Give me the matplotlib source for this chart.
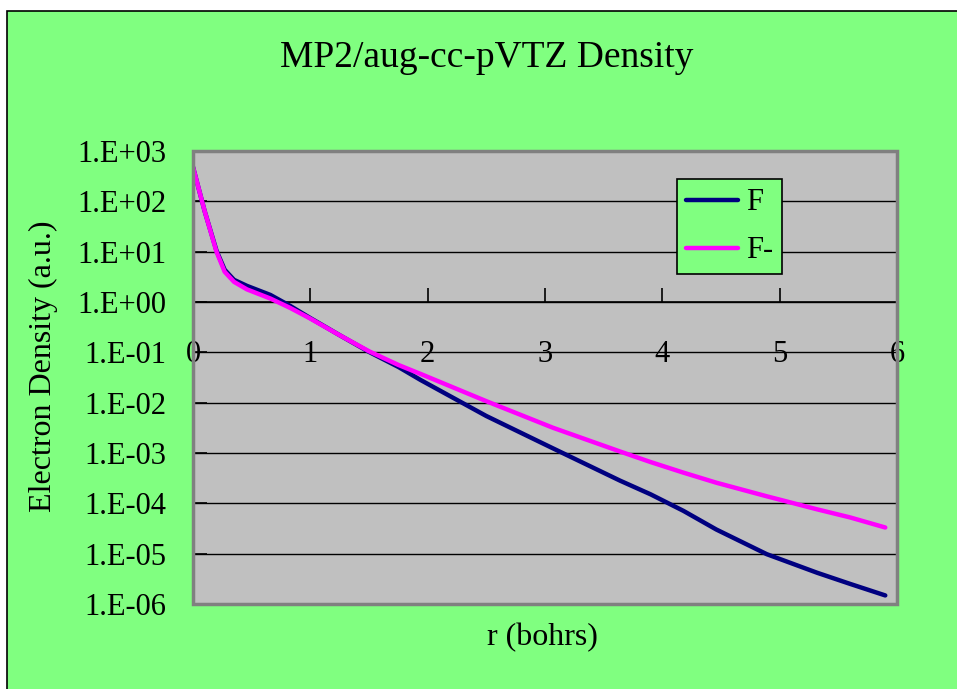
"""Electron density of F and F- (MP2/aug-cc-pVTZ)."""

from matplotlib import pyplot as plt
from matplotlib.patches import Rectangle
from matplotlib.ticker import FixedLocator, NullLocator

# radius in bohrs
r = [0.0, 0.1, 0.2, 0.27, 0.35, 0.46, 0.66, 0.83, 1.0, 1.25, 1.5, 1.75,
     1.94, 2.5, 3.07, 3.64, 3.9, 4.18, 4.46, 4.89, 5.32, 5.6, 5.9]
# densities in a.u.
dens_f = [479, 63.1, 10.5, 4.37, 2.75, 2.09, 1.38, 0.832, 0.479, 0.219,
          0.102, 0.0513, 0.0282, 0.00543, 0.00123, 2.82e-4, 1.51e-4,
          7.08e-5, 3.02e-5, 9.77e-6, 4.17e-6, 2.51e-6, 1.48e-6]
dens_fm = [479, 63.1, 10.0, 3.98, 2.51, 1.78, 1.17, 0.759, 0.468, 0.219,
           0.105, 0.0562, 0.0372, 0.0107, 0.00316, 0.00107, 6.61e-4,
           4.07e-4, 2.57e-4, 1.38e-4, 7.59e-5, 5.25e-5, 3.31e-5]
series_names = ['F', 'F-']

y_ticks = [1e3, 1e2, 1e1, 1e0, 1e-1, 1e-2, 1e-3, 1e-4, 1e-5, 1e-6]
y_labels = ['1.E+03', '1.E+02', '1.E+01', '1.E+00', '1.E-01',
            '1.E-02', '1.E-03', '1.E-04', '1.E-05', '1.E-06']
x_ticks = [0, 1, 2, 3, 4, 5, 6]

GREEN = '#80FF80'
GREY = '#C0C0C0'

plt.rcParams['font.family'] = ['Liberation Serif', 'DejaVu Serif']

W, H = 957, 689
fig = plt.figure(figsize=(W / 100, H / 100), dpi=100)
fig.patch.set_facecolor('white')
fig.patches.append(Rectangle((7 / W, -0.1), 1.2, 1.1 - 11 / H,
                             transform=fig.transFigure, facecolor=GREEN,
                             edgecolor='black', linewidth=1.2, zorder=-10))

ax = fig.add_axes([193 / W, 1 - 604 / H, (897 - 193) / W, (604 - 151) / H])
ax.set_facecolor(GREY)
ax.set_yscale('log')
ax.set_xlim(0, 6)
ax.set_ylim(1e-6, 1e3)

for y in y_ticks:
    ax.axhline(y, color='black', linewidth=1.0, zorder=1)

ax.plot(r, dens_f, color='#000080', linewidth=3.2, label=series_names[0],
        solid_capstyle='round', solid_joinstyle='round', zorder=3)
ax.plot(r, dens_fm, color='#FF00FF', linewidth=3.2, label=series_names[1],
        solid_capstyle='round', solid_joinstyle='round', zorder=4)

# x axis crosses at 1.E+00
ax.spines['bottom'].set_position(('data', 1.0))
ax.spines['bottom'].set_color('black')
ax.spines['bottom'].set_linewidth(1.2)
ax.spines['left'].set_color('black')
ax.spines['left'].set_linewidth(1.2)
ax.spines['top'].set_visible(False)
ax.spines['right'].set_visible(False)
# plot area border
ax.add_patch(Rectangle((0, 0), 1, 1, transform=ax.transAxes, fill=False,
                       edgecolor='#808080', linewidth=2.5, zorder=5,
                       clip_on=False))

ax.yaxis.set_major_locator(FixedLocator(y_ticks))
ax.yaxis.set_minor_locator(NullLocator())
ax.set_yticklabels(y_labels)
ax.set_xticks(x_ticks)
ax.tick_params(axis='y', direction='in', length=10, width=1.2, pad=19,
               labelsize=22)
ax.tick_params(axis='x', direction='in', length=10, width=1.2, pad=27,
               labelsize=22)

fig.text(487 / W, 1 - 58 / H, 'MP2/aug-cc-pVTZ Density', fontsize=27,
         ha='center', va='center')
fig.text(542 / W, 1 - 638 / H, 'r (bohrs)', fontsize=23,
         ha='center', va='center')
fig.text(43 / W, 1 - 366 / H, 'Electron Density (a.u.)', fontsize=23,
         ha='center', va='center', rotation=90)

leg = ax.legend(loc='upper left', bbox_to_anchor=(0.6875, 0.938),
                fontsize=22, frameon=True, fancybox=False,
                handlelength=1.7, handletextpad=0.25, labelspacing=0.62,
                borderpad=0.3, borderaxespad=0)
leg.get_frame().set_facecolor(GREEN)
leg.get_frame().set_edgecolor('black')
leg.get_frame().set_linewidth(1.2)
leg.get_frame().set_alpha(1)
leg.set_zorder(6)

fig.savefig('out.png', dpi=100)
